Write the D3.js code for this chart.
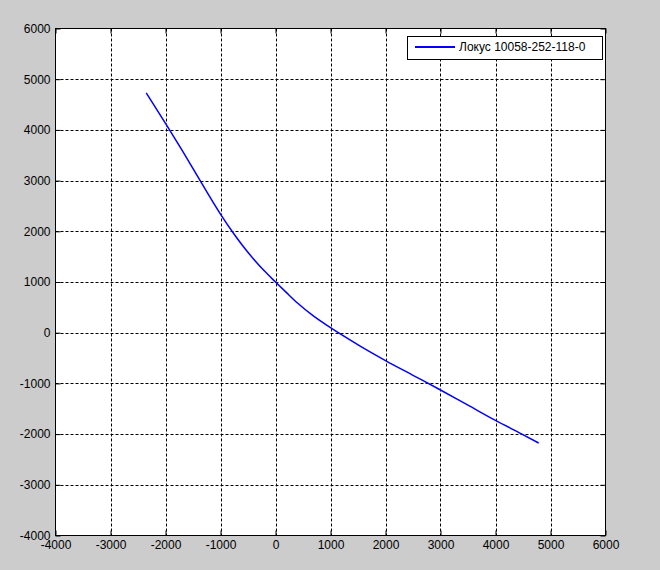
<!DOCTYPE html>
<html>
<head>
<meta charset="utf-8">
<script src="https://cdn.jsdelivr.net/npm/d3@7"></script>
<style>
  html, body { margin: 0; padding: 0; background: #cccccc; }
  svg { display: block; }
  text { font-family: "Liberation Sans", Arial, sans-serif; font-size: 12px; fill: #000; }
</style>
</head>
<body>
<svg id="chart" width="660" height="570"></svg>
<script>
// ---- data ----
const seriesName = "Локус 10058-252-118-0";
const locusX = [-2350, -2000, -1700, -1370, -1000, -790, -600, -400, -200, 0, 200, 400, 700, 1000, 1200, 1540, 2000, 2500, 3000, 3500, 4000, 4480, 4785];
const locusY = [4730, 4130, 3600, 3000, 2340, 2000, 1720, 1455, 1215, 1000, 790, 585, 320, 100, -40, -265, -550, -840, -1130, -1430, -1730, -2000, -2175];
const xTicks = [-4000, -3000, -2000, -1000, 0, 1000, 2000, 3000, 4000, 5000, 6000];
const yTicks = [-4000, -3000, -2000, -1000, 0, 1000, 2000, 3000, 4000, 5000, 6000];

const svg = d3.select("#chart");
const x = d3.scaleLinear().domain([-4000, 6000]).range([55.5, 605.5]);
const y = d3.scaleLinear().domain([-4000, 6000]).range([535.5, 28.5]);
const fmt = d => String(d); // ASCII hyphen minus

// plot background
svg.append("rect")
  .attr("x", x(-4000)).attr("y", y(6000))
  .attr("width", x(6000) - x(-4000)).attr("height", y(-4000) - y(6000))
  .attr("fill", "#ffffff");

// grid
const grid = svg.append("g").attr("stroke", "#000").attr("stroke-width", 1).attr("stroke-dasharray", "3,2");
grid.selectAll("line.gx").data(xTicks.slice(1, -1)).join("line")
  .attr("x1", d => Math.round(x(d)) + 0.5).attr("x2", d => Math.round(x(d)) + 0.5)
  .attr("y1", y(6000)).attr("y2", y(-4000));
grid.selectAll("line.gy").data(yTicks.slice(1, -1)).join("line")
  .attr("y1", d => Math.round(y(d)) + 0.5).attr("y2", d => Math.round(y(d)) + 0.5)
  .attr("x1", x(-4000)).attr("x2", x(6000));

// axes
const styleAxis = g => {
  g.select(".domain").remove();
  g.selectAll(".tick line").attr("stroke", "#000");
  g.selectAll(".tick text").attr("font-family", "Liberation Sans, Arial, sans-serif").attr("font-size", 12).attr("fill", "#000");
};
svg.append("g").attr("transform", `translate(0,${y(-4000)})`)
  .call(d3.axisBottom(x).tickValues(xTicks).tickFormat(fmt).tickSize(-5).tickPadding(5)).call(styleAxis);
svg.append("g").attr("transform", `translate(${x(-4000)},0)`)
  .call(d3.axisLeft(y).tickValues(yTicks).tickFormat(fmt).tickSize(-5).tickPadding(5)).call(styleAxis);
svg.append("g").attr("transform", `translate(0,${y(6000)})`)
  .call(d3.axisTop(x).tickValues(xTicks).tickFormat("").tickSize(-5)).call(styleAxis);
svg.append("g").attr("transform", `translate(${x(6000)},0)`)
  .call(d3.axisRight(y).tickValues(yTicks).tickFormat("").tickSize(-5)).call(styleAxis);

// border
svg.append("rect")
  .attr("x", x(-4000)).attr("y", y(6000))
  .attr("width", x(6000) - x(-4000)).attr("height", y(-4000) - y(6000))
  .attr("fill", "none").attr("stroke", "#000").attr("stroke-width", 1);

// series line
const pts = locusX.map((d, i) => [d, locusY[i]]);
svg.append("path")
  .datum(pts)
  .attr("fill", "none")
  .attr("stroke", "#0000ff")
  .attr("stroke-width", 1.5)
  .attr("d", d3.line().x(d => x(d[0])).y(d => y(d[1])).curve(d3.curveMonotoneX));

// legend
const lg = svg.append("g");
lg.append("rect").attr("x", 407.5).attr("y", 36.5).attr("width", 195).attr("height", 23)
  .attr("fill", "#fff").attr("stroke", "#000").attr("stroke-width", 1);
lg.append("line").attr("x1", 415).attr("x2", 455).attr("y1", 47).attr("y2", 47)
  .attr("stroke", "#0000ff").attr("stroke-width", 2);
lg.append("text").attr("x", 459).attr("y", 47).attr("dy", "0.35em").attr("font-size", 12.6).text(seriesName);
</script>
</body>
</html>
